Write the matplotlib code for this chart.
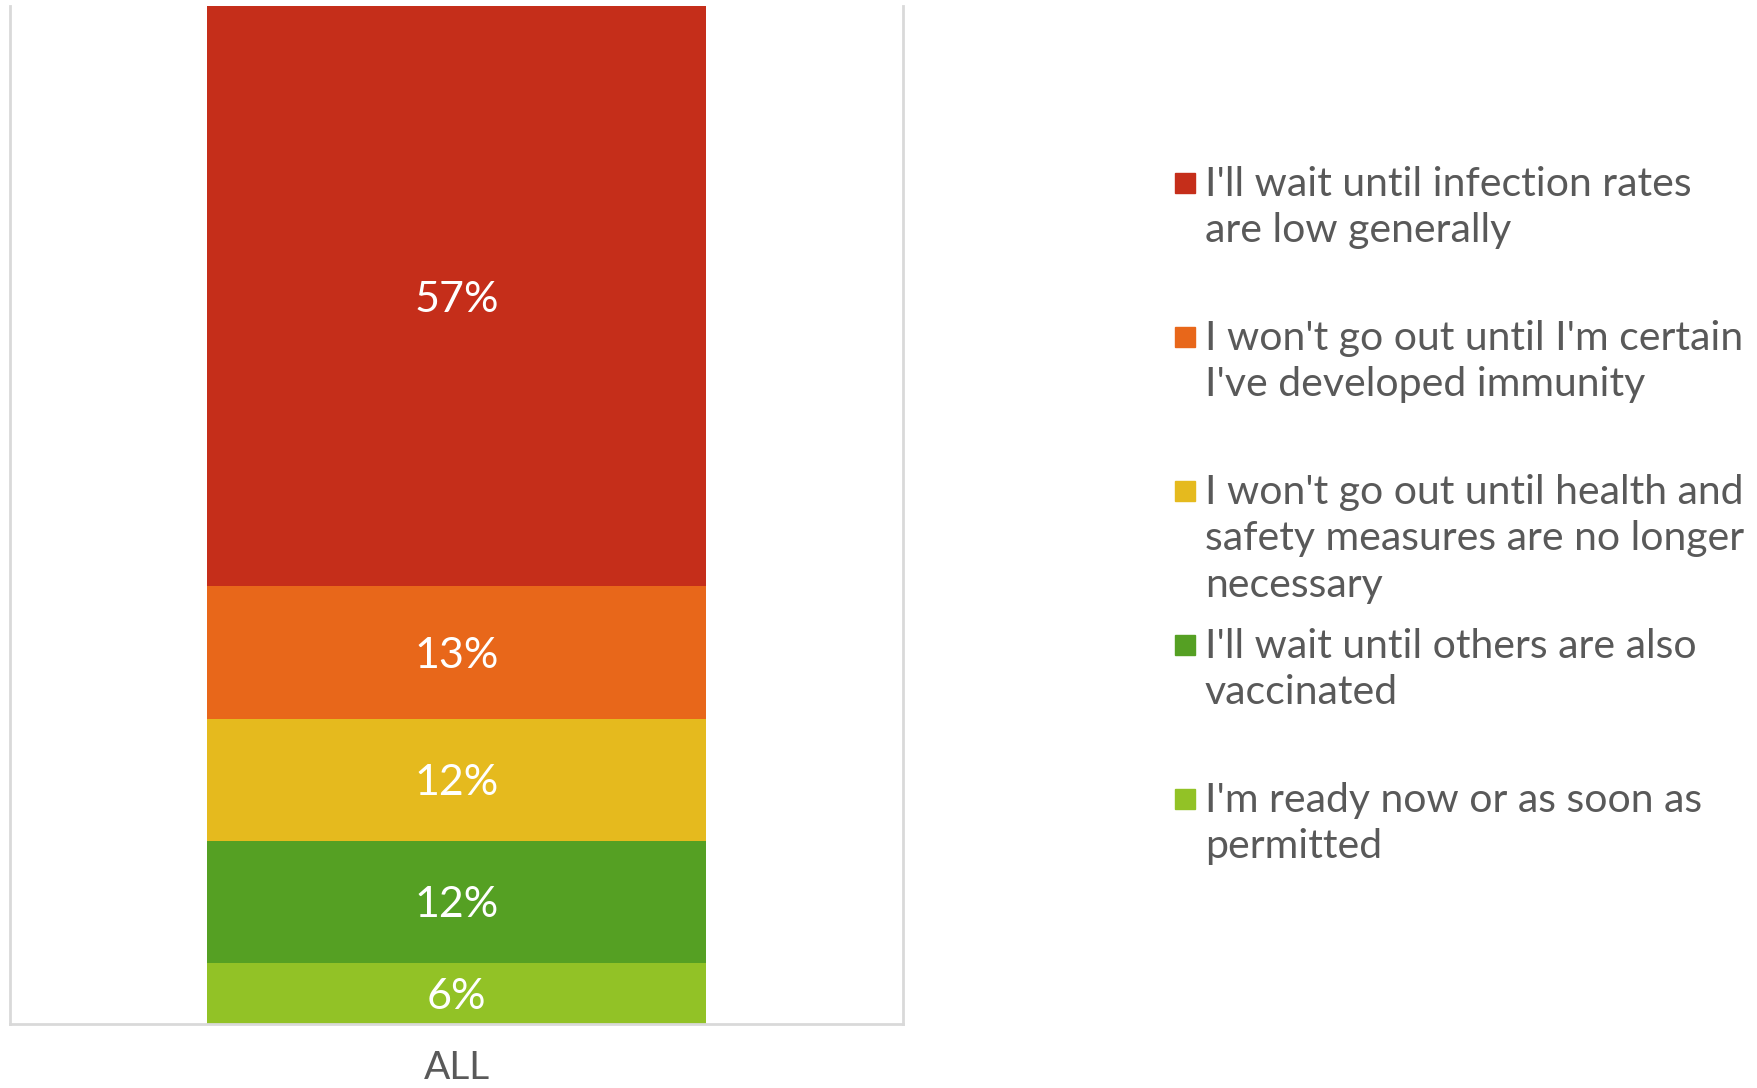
import matplotlib
matplotlib.use("Agg")
import matplotlib.pyplot as plt
from matplotlib import font_manager
from matplotlib.patches import Rectangle

# data
category = ["ALL"]
answers = [
    "I'm ready now or as soon as\npermitted",
    "I'll wait until others are also\nvaccinated",
    "I won't go out until health and\nsafety measures are no longer\nnecessary",
    "I won't go out until I'm certain\nI've developed immunity",
    "I'll wait until infection rates\nare low generally",
]
shares = [6, 12, 12, 13, 57]
colors = ["#92C226", "#55A023", "#E5BA1E", "#E8671A", "#C52E1A"]


def pick_font(names):
    for name in names:
        try:
            font_manager.findfont(font_manager.FontProperties(family=name),
                                  fallback_to_default=False)
            return name
        except Exception:
            continue
    return "DejaVu Sans"


font = pick_font(["Liberation Sans Narrow", "DejaVu Sans Condensed", "Lato"])
plt.rcParams["font.family"] = [font, "DejaVu Sans"]

grey = "#595959"
fig = plt.figure(figsize=(17.58, 10.88), dpi=100)
ax = fig.add_axes([0.0057, 0.0588, 0.508, 0.9357])

bottom = 0
for ans, val, col in zip(answers, shares, colors):
    ax.bar(category, [val], bottom=[bottom], width=0.559, color=col, label=ans)
    ax.text(0, bottom + val / 2, f"{val}%", ha="center", va="center_baseline",
            color="white", fontsize=31)
    bottom += val

ax.set_xlim(-0.5, 0.5)
ax.set_ylim(0, 100)
ax.set_yticks([])
ax.tick_params(axis="x", length=0, labelsize=28, labelcolor=grey, pad=19)
for side in ["left", "right", "bottom"]:
    ax.spines[side].set_color("#D9D9D9")
    ax.spines[side].set_linewidth(2)
ax.spines["top"].set_visible(False)

# legend, top entry first, fixed slot per entry
W, H = 1758, 1088
slot = 154
y_first = 183
for i, k in enumerate(range(len(answers) - 1, -1, -1)):
    yc = y_first + i * slot
    fig.patches.append(Rectangle((1175 / W, 1 - (yc + 10) / H), 20 / W, 20 / H,
                                 transform=fig.transFigure, color=colors[k]))
    fig.text(1205 / W, 1 - (yc - 17) / H, answers[k], ha="left", va="top",
             fontsize=29.5, color=grey, linespacing=1.31)

fig.savefig("out.png", dpi=100)
